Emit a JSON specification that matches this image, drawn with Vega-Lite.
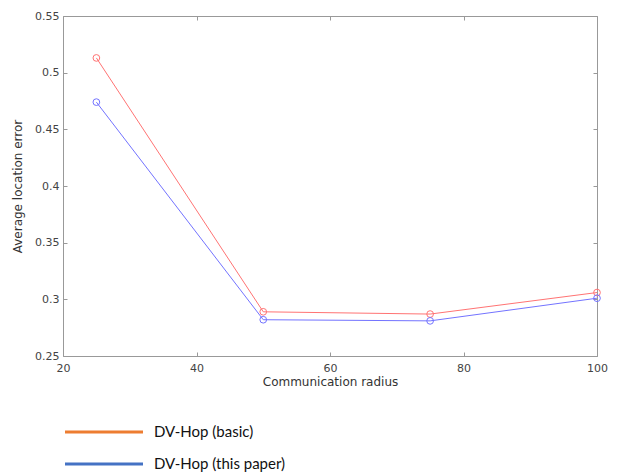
{
  "$schema": "https://vega.github.io/schema/vega-lite/v6.json",
  "width": 534,
  "height": 340,
  "autosize": {"type": "none"},
  "padding": {"left": 63, "top": 16, "right": 21, "bottom": 118},
  "background": "white",
  "config": {"view": {"stroke": null}, "font": "DejaVu Sans"},
  "data": {
    "values": [
      {"radius": 25, "error": 0.513, "method": "DV-Hop (basic)"},
      {"radius": 50, "error": 0.289, "method": "DV-Hop (basic)"},
      {"radius": 75, "error": 0.287, "method": "DV-Hop (basic)"},
      {"radius": 100, "error": 0.306, "method": "DV-Hop (basic)"},
      {"radius": 25, "error": 0.474, "method": "DV-Hop (this paper)"},
      {"radius": 50, "error": 0.282, "method": "DV-Hop (this paper)"},
      {"radius": 75, "error": 0.281, "method": "DV-Hop (this paper)"},
      {"radius": 100, "error": 0.301, "method": "DV-Hop (this paper)"}
    ]
  },
  "resolve": {"axis": {"x": "independent", "y": "independent"}},
  "layer": [
    {
      "mark": {"type": "line", "opacity": 0, "strokeWidth": 3},
      "encoding": {
        "x": {"field": "radius", "type": "quantitative", "scale": {"domain": [20, 100], "nice": false, "zero": false}, "axis": null},
        "y": {"field": "error", "type": "quantitative", "scale": {"domain": [0.25, 0.55], "nice": false, "zero": false}, "axis": null},
        "color": {
          "field": "method", "type": "nominal",
          "scale": {"domain": ["DV-Hop (basic)", "DV-Hop (this paper)"], "range": ["#ed7d31", "#4472c4"]},
          "legend": {
            "title": null, "orient": "none", "legendX": 27.5, "legendY": 402.5, "padding": 0,
            "symbolType": "M-3.25,0H3.25", "symbolSize": 576, "symbolStrokeWidth": 3, "symbolOpacity": 1,
            "labelFont": "Lato", "labelFontSize": 15, "labelColor": "#111111", "labelOffset": 36.5,
            "rowPadding": 10
          }
        }
      }
    },
    {
      "mark": {"type": "line", "strokeWidth": 1, "point": {"filled": false, "size": 45, "strokeWidth": 1}},
      "encoding": {
        "x": {
          "field": "radius", "type": "quantitative",
          "scale": {"domain": [20, 100], "nice": false, "zero": false},
          "axis": {
            "title": "Communication radius", "values": [20, 40, 60, 80, 100],
            "grid": false, "tickSize": -4, "domainColor": "#999999", "tickColor": "#999999",
            "labelFlush": false,
            "labelColor": "#444444", "labelFontSize": 11, "labelPadding": 10,
            "titleFontWeight": "normal", "titleFontSize": 12, "titleColor": "#333333", "titlePadding": 3
          }
        },
        "y": {
          "field": "error", "type": "quantitative",
          "scale": {"domain": [0.25, 0.55], "nice": false, "zero": false},
          "axis": {
            "title": "Average location error", "values": [0.25, 0.3, 0.35, 0.4, 0.45, 0.5, 0.55],
            "format": "~g", "labelFlush": false,
            "grid": false, "tickSize": -4, "domainColor": "#999999", "tickColor": "#999999",
            "labelColor": "#444444", "labelFontSize": 11, "labelPadding": 8,
            "titleFontWeight": "normal", "titleFontSize": 12, "titleColor": "#333333", "titlePadding": 10
          }
        },
        "stroke": {
          "field": "method", "type": "nominal",
          "scale": {"domain": ["DV-Hop (basic)", "DV-Hop (this paper)"], "range": ["#ff7373", "#7373ff"]},
          "legend": null
        }
      }
    },
    {
      "mark": {"type": "point", "opacity": 0},
      "encoding": {
        "x": {
          "field": "radius", "type": "quantitative",
          "scale": {"domain": [20, 100], "nice": false, "zero": false},
          "axis": {"orient": "top", "title": null, "labels": false, "values": [20, 40, 60, 80, 100],
                   "grid": false, "tickSize": -4, "domainColor": "#999999", "tickColor": "#999999"}
        },
        "y": {
          "field": "error", "type": "quantitative",
          "scale": {"domain": [0.25, 0.55], "nice": false, "zero": false},
          "axis": {"orient": "right", "title": null, "labels": false, "values": [0.25, 0.3, 0.35, 0.4, 0.45, 0.5, 0.55],
                   "grid": false, "tickSize": -4, "domainColor": "#999999", "tickColor": "#999999"}
        }
      }
    }
  ]
}
